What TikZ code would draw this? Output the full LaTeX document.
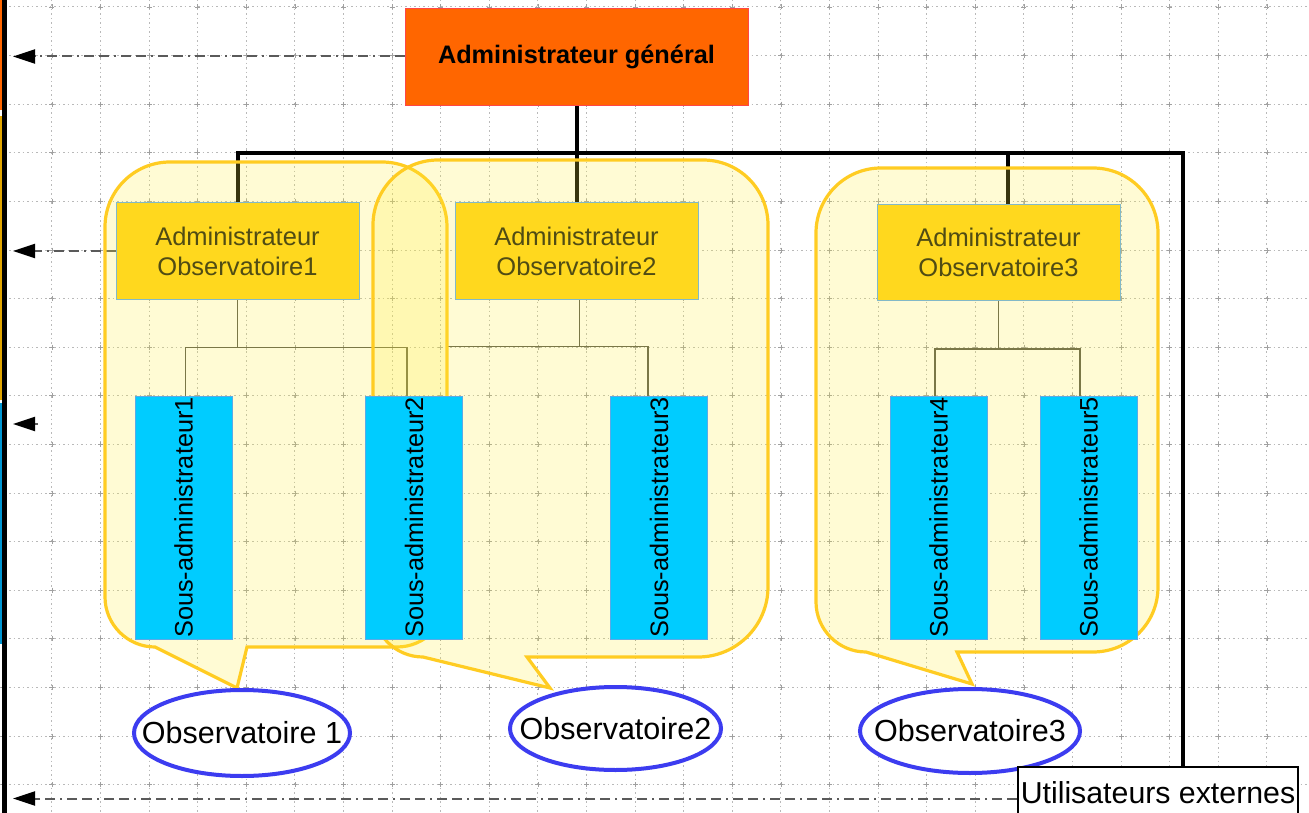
\documentclass[tikz,border=0pt]{standalone}
\usepackage{fontspec}
\setmainfont{Liberation Sans}
\usetikzlibrary{shapes.geometric,arrows.meta}
\definecolor{genfill}{RGB}{255,102,0}
\definecolor{genborder}{RGB}{255,70,70}
\definecolor{admfill}{RGB}{255,216,30}
\definecolor{admborder}{RGB}{130,185,200}
\definecolor{admtext}{RGB}{80,76,20}
\definecolor{subfill}{RGB}{0,204,255}
\definecolor{subborder}{RGB}{90,170,230}
\definecolor{obsblue}{RGB}{60,60,240}
\definecolor{callfill}{RGB}{255,240,60}
\definecolor{callborder}{RGB}{255,204,34}
\definecolor{gridgray}{RGB}{185,185,185}
\definecolor{gridmark}{RGB}{160,160,160}
\definecolor{arrowgray}{RGB}{90,90,90}
\definecolor{thingray}{RGB}{85,85,75}
\definecolor{stripeyellow}{RGB}{225,165,0}
\definecolor{stripeblue}{RGB}{0,150,210}
\pgfdeclarelayer{gridlayer}
\pgfdeclarelayer{connlayer}
\pgfdeclarelayer{calloutlayer}
\pgfsetlayers{gridlayer,connlayer,calloutlayer,main}
\begin{document}
\begin{tikzpicture}[x=1pt,y=-1pt,
  genbox/.style={draw=genborder, line width=0.8pt, fill=genfill, minimum width=343pt, minimum height=97pt, inner sep=0pt, font=\fontsize{25.3}{30}\selectfont\bfseries},
  admbox/.style={draw=admborder, line width=1pt, fill=admfill, minimum width=243pt, minimum height=96pt, inner sep=0pt, align=center, text=admtext, font=\fontsize{25.5}{30}\selectfont},
  subbox/.style={draw=subborder, line width=0.8pt, fill=subfill, minimum width=97pt, minimum height=243pt, inner sep=0pt, font=\fontsize{25.3}{30}\selectfont},
  obs/.style={ellipse, draw=obsblue, line width=4pt, fill=white, minimum width=216pt, minimum height=86pt, inner sep=0pt, font=\fontsize{30.5}{36}\selectfont},
  extbox/.style={draw=black, line width=2pt, fill=white, minimum width=280pt, minimum height=63pt, inner sep=0pt, text height=22pt, text depth=13pt, font=\fontsize{30.3}{36}\selectfont},
  mainline/.style={draw=black, line width=4pt},
  subline/.style={draw=thingray, line width=1.5pt},
  callout/.style={draw=callborder, line width=3.2pt, fill=callfill, fill opacity=0.22},
  backarrow/.style={draw=arrowgray, line width=2pt, dash pattern=on 10pt off 5pt on 10pt off 5pt on 2pt off 5pt, -{Triangle[length=22pt,width=14pt,black]}},
  gridline/.style={draw=gridgray, line width=1pt, dash pattern=on 1.5pt off 3pt},
]
\useasboundingbox (0,0) rectangle (1309,813);
\clip (0,0) rectangle (1309,813);

\begin{pgfonlayer}{gridlayer}
\fill[white] (0,0) rectangle (1309,813);
\foreach \i in {0,...,26} \draw[gridline] ({3.3+48.6*\i},0) -- ({3.3+48.6*\i},813);
\foreach \j in {0,...,16} \draw[gridline] (0,{7+48.6*\j}) -- (1309,{7+48.6*\j});
\foreach \i in {0,...,26} \foreach \j in {0,...,16} {
  \draw[gridmark, line width=0.8pt] ({3.3+48.6*\i-2.5},{7+48.6*\j}) -- ++(5,0) ({3.3+48.6*\i},{7+48.6*\j-2.5}) -- ++(0,5);
}
\fill[black] (2,0) rectangle (7,813);
\fill[genfill] (0,0) rectangle (2,110);
\fill[stripeyellow] (0,116) rectangle (2,400);
\fill[stripeblue] (0,403) rectangle (2,644);
\end{pgfonlayer}

% nodes
\node[genbox] (gen) at (576.5,56.5) {Administrateur général};
\node[admbox] (a1) at (237.5,251) {Administrateur\\Observatoire1};
\node[admbox] (a2) at (576.5,251) {Administrateur\\Observatoire2};
\node[admbox] (a3) at (998.5,252.5) {Administrateur\\Observatoire3};
\node[subbox] (s1) at (183.5,517.5) {\rotatebox{90}{Sous-administrateur1}};
\node[subbox] (s2) at (414,517.5) {\rotatebox{90}{Sous-administrateur2}};
\node[subbox] (s3) at (659,517.5) {\rotatebox{90}{Sous-administrateur3}};
\node[subbox] (s4) at (938.5,517.5) {\rotatebox{90}{Sous-administrateur4}};
\node[subbox] (s5) at (1088.5,517.5) {\rotatebox{90}{Sous-administrateur5}};
\node[obs] (o1) at (242,733) {\makebox[0pt]{Observatoire 1}};
\node[obs, minimum width=211pt, minimum height=83pt] (o2) at (615.5,728.5) {\makebox[0pt]{Observatoire2}};
\node[obs, minimum width=220pt, minimum height=84pt] (o3) at (970,731) {\makebox[0pt]{Observatoire3}};
\node[extbox] (ext) at (1158,798.5) {Utilisateurs externes};

\begin{pgfonlayer}{connlayer}
\coordinate (barR) at (1183,153);
\coordinate (leftedge) at (13,0);
\coordinate (stub) at (38,424);
\draw[mainline] (gen.south) -- (gen.south |- barR);
\draw[mainline] (a1.north) |- (barR) -- (barR |- ext.north);
\draw[mainline] (a2.north) -- (a2.north |- barR);
\draw[mainline] ([xshift=9.5pt]a3.north) -- ([xshift=9.5pt]a3.north |- barR);
\draw[subline] (a1.south) -- ++(0,48) coordinate (j1);
\draw[subline] (j1) -| ([xshift=2pt]s1.north);
\draw[subline] (j1) -| ([xshift=-7pt]s2.north);
\draw[subline] ([xshift=3pt]a2.south) -- ++(0,47) coordinate (j2);
\draw[subline] (j2) -| ([xshift=33pt]s2.north);
\draw[subline] (j2) -| ([xshift=-11pt]s3.north);
\draw[subline] (a3.south) -- ++(0,48) coordinate (j3);
\draw[subline] (j3) -| ([xshift=-3.5pt]s4.north);
\draw[subline] (j3) -| ([xshift=-8.5pt]s5.north);
\draw[backarrow] (gen.west) -- (gen.west -| leftedge);
\draw[backarrow] (a1.west) -- (a1.west -| leftedge);
\draw[backarrow] (stub) -- (stub -| leftedge);
\draw[backarrow] (ext.west) -- (ext.west -| leftedge);
\end{pgfonlayer}

\begin{pgfonlayer}{calloutlayer}
% callout 1
\draw[callout] (105,227) .. controls (105,191) and (134,162) .. (170,162)
  -- (382,162) .. controls (418,162) and (447,191) .. (447,227)
  -- (447,597) .. controls (447,624.5) and (424.5,647) .. (397,647)
  -- (247,647) -- (237,688) -- (155,647)
  .. controls (127.5,647) and (105,624.5) .. (105,597) -- cycle;
% callout 2
\draw[callout] (373,225) .. controls (373,189) and (402,160) .. (438,160)
  -- (703,160) .. controls (739,160) and (768,189) .. (768,225)
  -- (768,587) .. controls (768,625.5) and (736.5,657) .. (698,657)
  -- (527,657) -- (550,688) -- (423,657)
  .. controls (395.5,657) and (373,634.5) .. (373,607) -- cycle;
% callout 3
\draw[callout] (816,233) .. controls (816,197) and (845,168) .. (881,168)
  -- (1093,168) .. controls (1129,168) and (1158,197) .. (1158,233)
  -- (1158,587) .. controls (1158,623) and (1129,652) .. (1093,652)
  -- (957,652) -- (972,684) -- (866,652)
  .. controls (838.5,652) and (816,629.5) .. (816,602) -- cycle;
\end{pgfonlayer}
\end{tikzpicture}
\end{document}
